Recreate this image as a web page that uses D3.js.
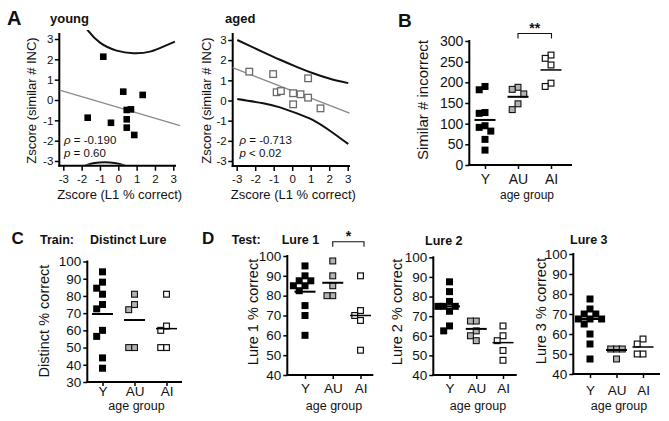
<!DOCTYPE html>
<html><head><meta charset="utf-8">
<script src="https://cdn.jsdelivr.net/npm/d3@7"></script>
<style>
body{margin:0;background:#fff}
svg{display:block}
text{font-family:"Liberation Sans",Arial,Helvetica,sans-serif;fill:#111}
</style>
</head><body>
<svg id="c" width="669" height="421"></svg>
<script>
// ---------------- DATA ----------------
const categories = ["Y", "AU", "AI"];
const zTicks = [-3, -2, -1, 0, 1, 2, 3];

// Panel A - young
const youngX = [-0.82, 0.27, 1.33, 0.46, 0.69, -1.67, -0.40, 0.46, 0.46, 0.87];
const youngY = [2.13, 0.41, 0.25, -0.49, -0.46, -0.87, -1.12, -0.95, -1.36, -1.72];
const youngReg = [[-3.2, 0.49], [3.37, -1.26]];
const youngUpper = [[-2.0, 3.85], [-1.64, 3.4], [-1.0, 2.82], [-0.09, 2.43], [0.82, 2.3], [1.73, 2.38], [2.64, 2.7], [3.09, 2.87]];
const youngLower = [[-2.4, -3.45], [-1.81, -3.23], [-1.3, -3.1], [-0.73, -3.06], [-0.2, -3.1], [0.37, -3.23], [1.0, -3.45]];
const youngStats = ["-0.190", "= 0.60"];

// Panel A - aged
const agedX = [-2.32, -1.03, 0.86, -0.84, -0.61, 0.05, 0.45, 0.86, 0.05, 1.53];
const agedY = [1.43, 1.31, 1.10, 0.41, 0.47, 0.36, 0.31, 0.14, -0.19, -0.39];
const agedReg = [[-3.22, 1.63], [3.1, -0.63]];
const agedUpper = [[-2.97, 3.0], [-1.57, 2.4], [-0.66, 2.02], [0.24, 1.67], [1.13, 1.35], [2.04, 1.08], [3.03, 0.86]];
const agedLower = [[-2.97, 0.07], [-1.57, -0.14], [-0.66, -0.34], [0.24, -0.63], [1.13, -0.97], [2.04, -1.5], [3.03, -2.16]];
const agedStats = ["-0.713", "< 0.02"];

// Panel B - Similar # incorrect
const bTicks = [0, 50, 100, 150, 200, 250, 300];
const bY = [190, 182, 127, 125, 95, 91, 82, 62, 36];
const bAU = [188, 183, 172, 148, 134];
const bAI = [266, 258, 242, 198, 190];
const bMeans = [109, 165, 230];

// Panel C - Distinct % correct
const cTicks = [30, 40, 50, 60, 70, 80, 90, 100];
const cY = [94, 88, 84.5, 81, 75, 72.5, 60, 56.5, 44, 38];
const cAU = [81, 75, 72, 50, 50];
const cAI = [81, 62.5, 60, 50, 50];
const cMeans = [69.5, 66, 61];

// Panel D - Lure 1/2/3 % correct
const dTicks = [40, 50, 60, 70, 80, 90, 100];
const d1Y = [95, 90, 87.5, 87.5, 85, 85, 82.5, 75, 70, 60];
const d1AU = [97.5, 90, 85, 80, 80];
const d1AI = [90, 72.5, 70, 67.5, 52.5];
const d1Means = [82, 86.5, 70];
const d2Y = [87.5, 82.5, 77.5, 75, 75, 75, 72.5, 65, 62.5];
const d2AU = [67.5, 67.5, 62.5, 60, 57.5];
const d2AI = [65, 60, 57.5, 52.5, 47.5];
const d2Means = [75, 63.5, 56.5];
const d3Y = [77.5, 72.5, 70, 70, 67.5, 67.5, 67.5, 65, 60, 55, 47.5];
const d3AU = [52.5, 52.5, 52.5, 47.5];
const d3AI = [57.5, 55, 50, 50];
const d3Means = [67.5, 52, 53.5];

// ---------------- DRAWING ----------------
const svg = d3.select("#c");
const FONT = '"Liberation Sans",Arial,Helvetica,sans-serif';

function text(x, y, s, size, opts = {}) {
  const t = svg.append("text").attr("x", x).attr("y", y)
    .attr("font-size", size).text(s);
  if (opts.bold) t.attr("font-weight", "bold");
  if (opts.anchor) t.attr("text-anchor", opts.anchor);
  if (opts.italic) t.attr("font-style", "italic");
  return t;
}
function vtext(x, y, s, size) {
  svg.append("text").attr("transform", `translate(${x},${y}) rotate(-90)`)
    .attr("text-anchor", "middle").attr("font-size", size).text(s);
}
function styleAxis(g, fs) {
  g.select(".domain").remove();
  g.selectAll(".tick line").attr("stroke", "#000").attr("stroke-width", 1.5);
  g.selectAll(".tick text").attr("font-size", fs).attr("font-family", FONT).attr("fill", "#111");
}

// ---- scatter panels (A) ----
let clipId = 0;
function scatter(o) {
  const g = svg.append("g");
  const x = d3.scaleLinear().domain([-3, 3]).range(o.xr);
  const y = d3.scaleLinear().domain([-3, 3]).range(o.yr);
  const ya = g.append("g").attr("transform", `translate(${o.ax},0)`)
    .call(d3.axisLeft(y).tickValues(zTicks).tickSize(4.5).tickPadding(1.5).tickFormat(d => String(d)));
  styleAxis(ya, 11.5);
  const xa = g.append("g").attr("transform", `translate(0,${o.ay})`)
    .call(d3.axisBottom(x).tickValues(zTicks).tickSize(5).tickPadding(4).tickFormat(d => String(d)));
  styleAxis(xa, 11.5);
  g.append("line").attr("x1", o.ax).attr("x2", o.ax).attr("y1", o.top).attr("y2", o.ay + 1)
    .attr("stroke", "#000").attr("stroke-width", 2);
  g.append("line").attr("x1", o.ax - 1).attr("x2", o.xEnd).attr("y1", o.ay).attr("y2", o.ay)
    .attr("stroke", "#000").attr("stroke-width", 2);
  const id = "clip" + (clipId++);
  svg.append("clipPath").attr("id", id).append("rect")
    .attr("x", o.ax).attr("y", o.clipTop).attr("width", 200).attr("height", o.ay - o.clipTop - 1);
  const line = d3.line().x(d => x(d[0])).y(d => y(d[1])).curve(d3.curveNatural);
  const cg = g.append("g").attr("clip-path", `url(#${id})`);
  cg.append("path").attr("d", line(o.upper)).attr("fill", "none").attr("stroke", "#111").attr("stroke-width", 2);
  cg.append("path").attr("d", line(o.lower)).attr("fill", "none").attr("stroke", "#111").attr("stroke-width", 2);
  g.append("path").attr("d", d3.line().x(d => x(d[0])).y(d => y(d[1]))(o.reg))
    .attr("fill", "none").attr("stroke", "#8a8a8a").attr("stroke-width", 1.3);
  const s = 6.6;
  g.selectAll("rect.pt").data(o.px.map((v, i) => [v, o.py[i]])).join("rect")
    .attr("x", d => x(d[0]) - s / 2).attr("y", d => y(d[1]) - s / 2)
    .attr("width", s).attr("height", s)
    .attr("fill", o.filled ? "#000" : "#fff")
    .attr("stroke", o.filled ? "none" : "#6a6a6a").attr("stroke-width", 1.3);
  const t1 = svg.append("text").attr("x", o.statX).attr("y", 143.7).attr("font-size", 11.5);
  t1.append("tspan").attr("font-style", "italic").text("ρ");
  t1.append("tspan").text(" = " + o.stats[0]);
  const t2 = svg.append("text").attr("x", o.statX).attr("y", 157).attr("font-size", 11.5);
  t2.append("tspan").attr("font-style", "italic").text("p");
  t2.append("tspan").text(" " + o.stats[1]);
  vtext(o.ylabX, 100.5, "Zscore (similar # INC)", 13);
  text((o.ax + o.xEnd) / 2 + 2, 199, "Zscore (L1 % correct)", 13, { anchor: "middle" });
}

scatter({ xr: [63.3, 173.3], yr: [161, 39], ax: 59.3, ay: 165.7, xEnd: 176, top: 33, clipTop: 30,
  px: youngX, py: youngY, reg: youngReg, upper: youngUpper, lower: youngLower, filled: true,
  stats: youngStats, statX: 64, ylabX: 36 });
scatter({ xr: [236.7, 347.7], yr: [161, 40], ax: 232.7, ay: 166, xEnd: 350, top: 33, clipTop: 30,
  px: agedX, py: agedY, reg: agedReg, upper: agedUpper, lower: agedLower, filled: false,
  stats: agedStats, statX: 239.5, ylabX: 211 });

// ---- dot plot panels ----
function dodge(values, yScale, step, thrX, thrY) {
  const order = values.map((v, i) => i).sort((a, b) => values[b] - values[a]);
  const placed = [], off = new Array(values.length);
  const slots = [0, -1, 1, -2, 2, -3, 3];
  for (const i of order) {
    const py = yScale(values[i]);
    for (const k of slots) {
      const px = k * step;
      if (!placed.some(p => Math.abs(p.py - py) < thrY && Math.abs(p.px - px) < thrX)) {
        off[i] = px; placed.push({ px, py }); break;
      }
    }
  }
  return off;
}
const groupStyles = [
  { fill: "#000", stroke: "none", sw: 0 },
  { fill: "#b3b3b3", stroke: "#111", sw: 1.1 },
  { fill: "#fff", stroke: "#111", sw: 1.2 }
];

function dotPanel(o) {
  const g = svg.append("g");
  const y = d3.scaleLinear().domain(o.domain).range([o.bottom, o.top]);
  const x = d3.scalePoint().domain(categories).range(o.cats);
  const ya = g.append("g").attr("transform", `translate(${o.ax},0)`)
    .call(d3.axisLeft(y).tickValues(o.ticks).tickSize(4).tickPadding(2).tickFormat(d => String(d)));
  styleAxis(ya, o.tickFs);
  const xa = g.append("g").attr("transform", `translate(0,${o.bottom})`)
    .call(d3.axisBottom(x).tickSize(4).tickPadding(o.catPad));
  styleAxis(xa, o.catFs);
  g.append("line").attr("x1", o.ax).attr("x2", o.ax).attr("y1", o.top - 1).attr("y2", o.bottom + 1)
    .attr("stroke", "#000").attr("stroke-width", 2);
  g.append("line").attr("x1", o.ax - 1).attr("x2", o.xEnd).attr("y1", o.bottom).attr("y2", o.bottom)
    .attr("stroke", "#000").attr("stroke-width", 2);
  const s = 7;
  o.series.forEach((vals, gi) => {
    const off = dodge(vals, y, 5.8, 5.5, 7);
    const st = groupStyles[gi];
    const cx = x(categories[gi]);
    g.append("g").selectAll("rect").data(vals).join("rect")
      .attr("x", (d, i) => cx + off[i] - s / 2 + st.sw / 2)
      .attr("y", d => y(d) - s / 2 + st.sw / 2)
      .attr("width", s - st.sw).attr("height", s - st.sw)
      .attr("fill", st.fill).attr("stroke", st.stroke).attr("stroke-width", st.sw);
  });
  o.means.forEach((m, gi) => {
    const cx = x(categories[gi]);
    g.append("line").attr("x1", cx - 10.5).attr("x2", cx + 10.5)
      .attr("y1", y(m)).attr("y2", y(m)).attr("stroke", "#000").attr("stroke-width", gi === 2 ? 1.5 : 2);
  });
  if (o.sig) {
    const x1 = x(categories[1]), x2 = x(categories[2]) + o.sig.extra;
    g.append("path").attr("d", `M${x1},${o.sig.y + 5}V${o.sig.y}H${x2}V${o.sig.y + 5}`)
      .attr("fill", "none").attr("stroke", "#111").attr("stroke-width", 1.1);
    text((x1 + x2) / 2, o.sig.y - 1, o.sig.label, 14, { anchor: "middle", bold: true });
  }
  vtext(o.ylabX, o.ylabY, o.ylabel, o.ylabFs);
  text(o.agX, o.agY, "age group", o.agFs || 12.5, { anchor: "middle" });
}

dotPanel({ domain: [0, 300], ticks: bTicks, top: 41, bottom: 165, ax: 469.3, xEnd: 572,
  cats: [485, 551], series: [bY, bAU, bAI], means: bMeans, tickFs: 14, catFs: 14, catPad: 5,
  sig: { y: 33.5, label: "**", extra: 0.5 },
  ylabel: "Similar # incorrect", ylabX: 428, ylabY: 100, ylabFs: 15, agX: 527, agY: 198.5, agFs: 12 });

dotPanel({ domain: [30, 100], ticks: cTicks, top: 261.5, bottom: 382, ax: 87.3, xEnd: 182,
  cats: [102.5, 166.5], series: [cY, cAU, cAI], means: cMeans, tickFs: 13.5, catFs: 13.5, catPad: 0,
  ylabel: "Distinct % correct", ylabX: 49, ylabY: 321, ylabFs: 14.5, agX: 136.5, agY: 410 });

dotPanel({ domain: [40, 100], ticks: dTicks, top: 256, bottom: 375, ax: 287.3, xEnd: 373.3,
  cats: [305, 360.5], series: [d1Y, d1AU, d1AI], means: d1Means, tickFs: 13.5, catFs: 13.5, catPad: 4,
  sig: { y: 241.7, label: "*", extra: 3.5 },
  ylabel: "Lure 1 % correct", ylabX: 258, ylabY: 312, ylabFs: 14.5, agX: 334, agY: 410 });

dotPanel({ domain: [40, 100], ticks: dTicks, top: 257.3, bottom: 375, ax: 433.3, xEnd: 516.7,
  cats: [449.5, 503], series: [d2Y, d2AU, d2AI], means: d2Means, tickFs: 13.5, catFs: 13.5, catPad: 4,
  ylabel: "Lure 2 % correct", ylabX: 402, ylabY: 312, ylabFs: 14.5, agX: 478, agY: 410 });

dotPanel({ domain: [40, 100], ticks: dTicks, top: 254, bottom: 374, ax: 573.3, xEnd: 660,
  cats: [590, 643], series: [d3Y, d3AU, d3AI], means: d3Means, tickFs: 13.5, catFs: 13.5, catPad: 7.5,
  ylabel: "Lure 3 % correct", ylabX: 546, ylabY: 311, ylabFs: 14.5, agX: 619, agY: 410 });

// ---- titles & panel letters ----
text(7, 25, "A", 20, { bold: true });
text(50, 23, "young", 13, { bold: true });
text(225, 23, "aged", 13, { bold: true });
text(398, 27, "B", 19, { bold: true });
text(11.5, 243.5, "C", 17, { bold: true });
text(40, 243.5, "Train:", 12.5, { bold: true });
text(90, 243.5, "Distinct Lure", 12.5, { bold: true });
text(202, 243.5, "D", 17, { bold: true });
text(231.7, 243.5, "Test:", 12.5, { bold: true });
text(281.7, 243.5, "Lure 1", 12.5, { bold: true });
text(425, 244.5, "Lure 2", 12.5, { bold: true });
text(570, 243.5, "Lure 3", 12.5, { bold: true });
</script>
</body></html>
